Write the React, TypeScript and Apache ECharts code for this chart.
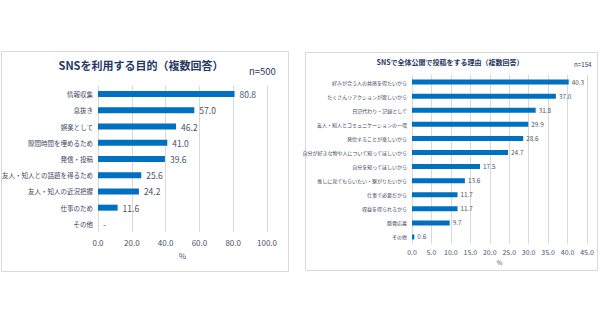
import React, { useEffect, useRef } from "react";
import * as echarts from "echarts";

const leftCategories = [
  "情報収集",
  "息抜き",
  "娯楽として",
  "隙間時間を埋めるため",
  "発信・投稿",
  "友人・知人との話題を得るため",
  "友人・知人の近況把握",
  "仕事のため",
  "その他",
];
const leftValues = [80.8, 57.0, 46.2, 41.0, 39.6, 25.6, 24.2, 11.6, 0];
const leftTicks = [0, 20, 40, 60, 80, 100];

const rightCategories = [
  "好みが合う人の共感を得たいから",
  "たくさんリアクションが欲しいから",
  "日記代わり・記録として",
  "友人・知人とコミュニケーションの一環",
  "発信することが楽しいから",
  "自分が好きな物や人について知ってほしいから",
  "自分を知ってほしいから",
  "推しに見てもらいたい・繋がりたいから",
  "仕事で必要だから",
  "収益を得られるから",
  "懸賞応募",
  "その他",
];
const rightValues = [40.3, 37.0, 31.8, 29.9, 28.6, 24.7, 17.5, 13.6, 11.7, 11.7, 9.7, 0.6];
const rightTicks = [0, 5, 10, 15, 20, 25, 30, 35, 40, 45];

const FONT = "'Noto Sans CJK JP', 'Noto Sans', sans-serif";
const BAR = "#0070C0";
const TXT = "#44546A";
const CAT = "#3A4660";
const GRIDC = "#D9D9D9";
const TITLE = "#1F3864";

export default function App() {
  const ref = useRef<HTMLDivElement>(null);
  useEffect(() => {
    if (!ref.current) return;
    const chart = echarts.init(ref.current, null, { renderer: "svg" });
    chart.setOption({
      animation: false,
      backgroundColor: "#ffffff",
      textStyle: { fontFamily: FONT },
      graphic: [
        {
          type: "rect",
          shape: { x: 1.5, y: 51.5, width: 287, height: 220 },
          style: { fill: "none", stroke: GRIDC, lineWidth: 1 },
          silent: true,
        },
        {
          type: "rect",
          shape: { x: 305.5, y: 52.5, width: 292, height: 218 },
          style: { fill: "none", stroke: GRIDC, lineWidth: 1 },
          silent: true,
        },
      ],
      title: [
        {
          text: "SNSを利用する目的（複数回答）",
          left: 141,
          top: 59,
          padding: 0,
          textAlign: "center",
          textStyle: { fontFamily: FONT, fontSize: 11, fontWeight: "bold", color: TITLE },
        },
        {
          text: "n=500",
          left: 249,
          top: 66,
          padding: 0,
          textStyle: { fontFamily: FONT, fontSize: 9.5, fontWeight: "normal", color: TITLE },
        },
        {
          text: "SNSで全体公開で投稿をする理由（複数回答）",
          left: 450,
          top: 58,
          padding: 0,
          textAlign: "center",
          textStyle: { fontFamily: FONT, fontSize: 7, fontWeight: "bold", color: TITLE },
        },
        {
          text: "n=154",
          left: 574,
          top: 61,
          padding: 0,
          textStyle: { fontFamily: FONT, fontSize: 6.2, fontWeight: "normal", color: TITLE },
        },
      ],
      grid: [
        { left: 98, right: 333, top: 86, bottom: 93, outerBoundsMode: "none", containLabel: false },
        { left: 412, right: 13, top: 75, bottom: 81, outerBoundsMode: "none", containLabel: false },
      ],
      xAxis: [
        {
          gridIndex: 0,
          type: "value",
          min: leftTicks[0],
          max: leftTicks[leftTicks.length - 1],
          interval: 20,
          axisLine: { show: false },
          axisTick: { show: false },
          splitLine: { show: true, lineStyle: { color: GRIDC, width: 1 } },
          axisLabel: {
            margin: 6,
            fontSize: 8,
            color: TXT,
            fontFamily: FONT,
            formatter: (v: number) => v.toFixed(1),
          },
          name: "%",
          nameLocation: "middle",
          nameGap: 19,
          nameTextStyle: { fontSize: 8, color: TXT, fontFamily: FONT },
        },
        {
          gridIndex: 1,
          type: "value",
          min: rightTicks[0],
          max: rightTicks[rightTicks.length - 1],
          interval: 5,
          axisLine: { show: false },
          axisTick: { show: false },
          splitLine: { show: true, lineStyle: { color: GRIDC, width: 1 } },
          axisLabel: {
            margin: 4,
            fontSize: 7,
            color: TXT,
            fontFamily: FONT,
            formatter: (v: number) => v.toFixed(1),
          },
          name: "%",
          nameLocation: "middle",
          nameGap: 11,
          nameTextStyle: { fontSize: 6, color: TXT, fontFamily: FONT },
        },
      ],
      yAxis: [
        {
          gridIndex: 0,
          type: "category",
          data: leftCategories,
          inverse: true,
          axisLine: { show: false },
          axisTick: { show: false },
          axisLabel: { margin: 5, fontSize: 6.5, color: CAT, fontFamily: FONT },
        },
        {
          gridIndex: 1,
          type: "category",
          data: rightCategories,
          inverse: true,
          axisLine: { show: false },
          axisTick: { show: false },
          axisLabel: { margin: 5, fontSize: 5, color: CAT, fontFamily: FONT },
        },
      ],
      series: [
        {
          type: "bar",
          xAxisIndex: 0,
          yAxisIndex: 0,
          data: leftValues,
          barWidth: 6,
          itemStyle: { color: BAR },
          label: {
            show: true,
            position: "right",
            distance: 5,
            fontSize: 8.5,
            color: TXT,
            fontFamily: FONT,
            formatter: (p: any) => (p.value === 0 ? "-" : Number(p.value).toFixed(1)),
          },
        },
        {
          type: "bar",
          xAxisIndex: 1,
          yAxisIndex: 1,
          data: rightValues,
          barWidth: 5,
          itemStyle: { color: BAR },
          label: {
            show: true,
            position: "right",
            distance: 3,
            fontSize: 6.4,
            color: TXT,
            fontFamily: FONT,
            formatter: (p: any) => Number(p.value).toFixed(1),
          },
        },
      ],
    });
    return () => chart.dispose();
  }, []);
  return (
    <div
      ref={ref}
      style={{ position: "fixed", left: 0, top: 0, width: 600, height: 325, background: "#fff" }}
    />
  );
}
